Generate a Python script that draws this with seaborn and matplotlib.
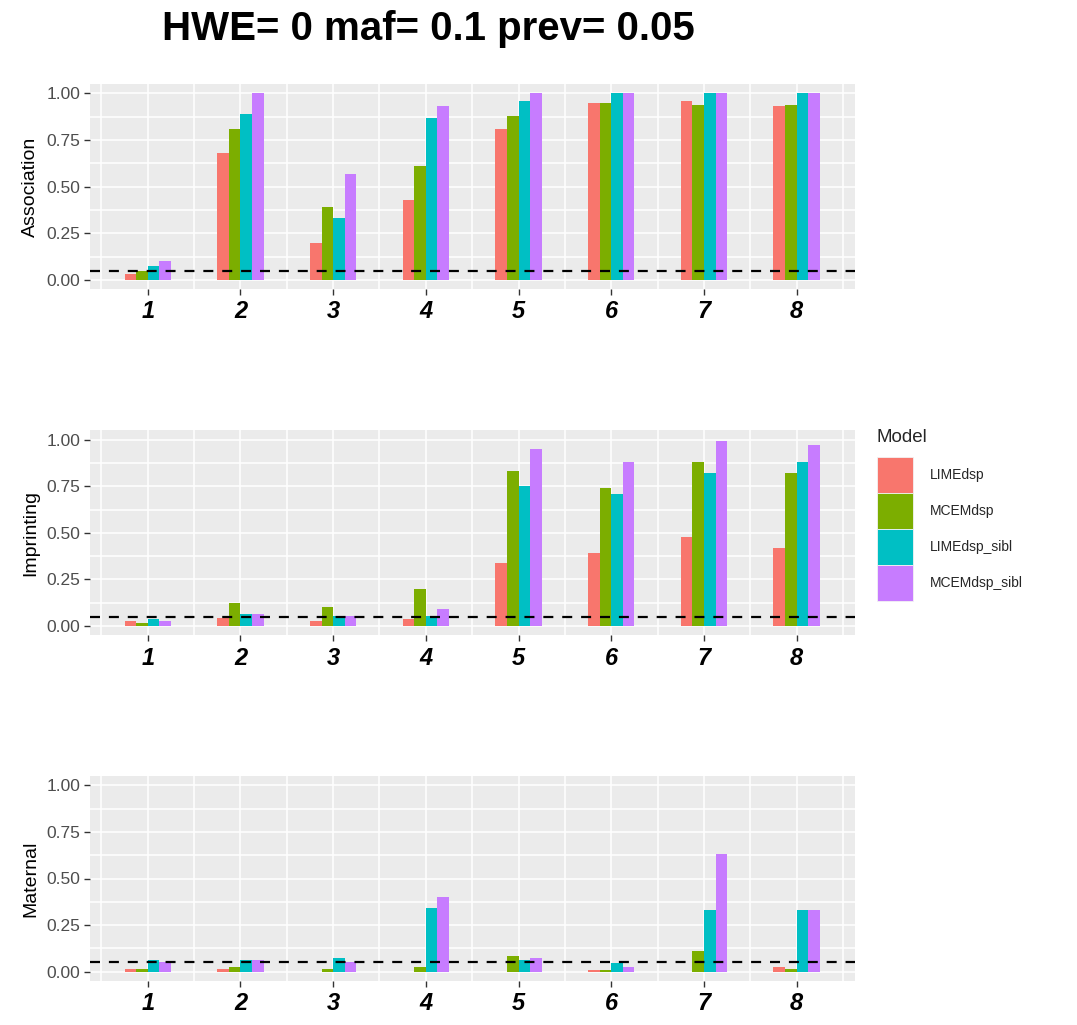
import numpy as np
import pandas as pd
import matplotlib
matplotlib.use("Agg")
import matplotlib.pyplot as plt
from matplotlib.patches import Patch
from matplotlib.ticker import FixedLocator
import seaborn as sns

# ---- data ----
scenarios = ["1", "2", "3", "4", "5", "6", "7", "8"]
models = ["LIMEdsp", "MCEMdsp", "LIMEdsp_sibl", "MCEMdsp_sibl"]
colors = ["#F8766D", "#7CAE00", "#00BFC4", "#C77CFF"]

association_lime = [0.03, 0.68, 0.20, 0.43, 0.81, 0.95, 0.96, 0.93]
association_mcem = [0.05, 0.81, 0.39, 0.61, 0.88, 0.95, 0.94, 0.94]
association_lime_sibl = [0.075, 0.89, 0.33, 0.87, 0.96, 1.00, 1.00, 1.00]
association_mcem_sibl = [0.10, 1.00, 0.57, 0.93, 1.00, 1.00, 1.00, 1.00]

imprinting_lime = [0.027, 0.045, 0.027, 0.04, 0.34, 0.39, 0.48, 0.42]
imprinting_mcem = [0.016, 0.125, 0.10, 0.20, 0.83, 0.74, 0.88, 0.82]
imprinting_lime_sibl = [0.04, 0.064, 0.052, 0.052, 0.75, 0.71, 0.82, 0.88]
imprinting_mcem_sibl = [0.027, 0.064, 0.052, 0.089, 0.95, 0.88, 0.99, 0.97]

maternal_lime = [0.012, 0.012, 0.0, 0.0, 0.0, 0.011, 0.0, 0.025]
maternal_mcem = [0.012, 0.025, 0.012, 0.025, 0.086, 0.011, 0.11, 0.012]
maternal_lime_sibl = [0.062, 0.062, 0.075, 0.34, 0.061, 0.048, 0.33, 0.33]
maternal_mcem_sibl = [0.05, 0.062, 0.05, 0.40, 0.073, 0.023, 0.63, 0.33]

alpha_level = 0.05
title = "HWE= 0 maf= 0.1 prev= 0.05"

panels = [
    ("Association", [association_lime, association_mcem,
                     association_lime_sibl, association_mcem_sibl]),
    ("Imprinting", [imprinting_lime, imprinting_mcem,
                    imprinting_lime_sibl, imprinting_mcem_sibl]),
    ("Maternal", [maternal_lime, maternal_mcem,
                  maternal_lime_sibl, maternal_mcem_sibl]),
]

# ---- style ----
sns.set_theme(style="darkgrid", rc={
    "axes.facecolor": "#EBEBEB",
    "grid.color": "white",
    "grid.linewidth": 1.1,
    "figure.facecolor": "white",
})
plt.rcParams["font.family"] = ["Liberation Sans", "DejaVu Sans"]

W, H = 1077, 1025
fig = plt.figure(figsize=(W / 100, H / 100), dpi=100)

left = 89.8 / W
width = (854.6 - 89.8) / W
panel_px = [(84.0, 289.3), (430.3, 635.4), (776.0, 981.0)]

palette = dict(zip(models, colors))

for (ylabel, series), (top, bottom) in zip(panels, panel_px):
    ax = fig.add_axes([left, 1 - bottom / H, width, (bottom - top) / H])
    df = pd.DataFrame({
        "Scenario": np.tile(scenarios, len(models)),
        "Model": np.repeat(models, len(scenarios)),
        "Power": np.concatenate(series),
    })
    sns.barplot(data=df, x="Scenario", y="Power", hue="Model",
                order=scenarios, hue_order=models, palette=palette,
                width=0.5, gap=0, linewidth=0, saturation=1,
                errorbar=None, legend=False, ax=ax)
    ax.axhline(alpha_level, color="black", lw=1.6, ls=(0, (4.5, 4)), zorder=5)

    ax.set_xlim(-0.625, 7.625)
    ax.set_ylim(-0.05, 1.05)
    ax.yaxis.set_major_locator(FixedLocator([0, 0.25, 0.5, 0.75, 1.0]))
    ax.yaxis.set_minor_locator(FixedLocator([0.125, 0.375, 0.625, 0.875]))
    ax.xaxis.set_minor_locator(FixedLocator(np.arange(-0.5, 8, 1.0)))
    ax.set_yticklabels(["0.00", "0.25", "0.50", "0.75", "1.00"])
    ax.grid(True, which="both", color="white", lw=1.1)
    ax.set_axisbelow(True)
    for sp in ax.spines.values():
        sp.set_visible(False)

    ax.tick_params(axis="both", which="major", length=4, width=1,
                   color="#333333", direction="out",
                   bottom=True, left=True)
    ax.tick_params(axis="both", which="minor", length=0)
    ax.tick_params(axis="y", labelsize=12.5, labelcolor="#4D4D4D", pad=3)
    ax.tick_params(axis="x", labelsize=17, labelcolor="black", pad=4)
    for lab in ax.get_xticklabels():
        lab.set_fontweight("bold")
        lab.set_fontstyle("italic")

    ax.set_xlabel("")
    ax.set_ylabel(ylabel, fontsize=14, color="black", labelpad=5)

fig.text(428 / W, 1 - 29 / H, title, ha="center", va="center",
         fontsize=29, fontweight="bold", color="black")

handles = [Patch(facecolor=c, edgecolor="#F2F2F2", linewidth=0.6) for c in colors]
leg = fig.legend(handles, models, title="Model", loc="upper left",
                 bbox_to_anchor=(877 / W, 1 - 429 / H), frameon=False,
                 fontsize=10, title_fontsize=13.5, handlelength=2.6,
                 handleheight=3.6, labelspacing=0.0, handletextpad=1.2,
                 borderpad=0, borderaxespad=0, alignment="left")
leg._legend_box.sep = 8

fig.savefig("out.png", dpi=100)
